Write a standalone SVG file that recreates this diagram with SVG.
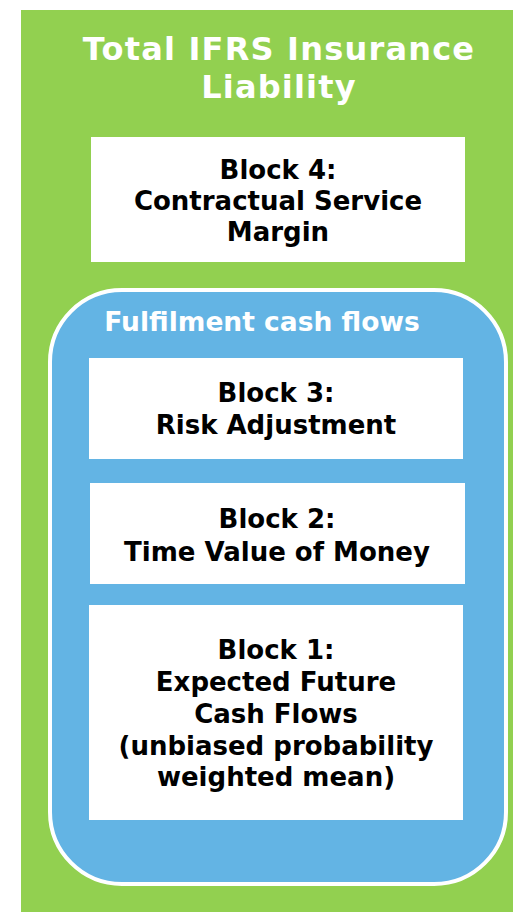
<svg xmlns="http://www.w3.org/2000/svg" width="513" height="912" viewBox="0 0 513 912">
<style>
.blk{fill:#fff}
.t{font-family:"DejaVu Sans",Verdana,sans-serif;font-weight:bold;text-anchor:middle}
.bt{font-size:26px;fill:#000}
.wt{fill:#fff}
.ttl{font-size:32px;letter-spacing:1.2px}
</style>
<rect x="0" y="0" width="513" height="912" fill="#fff"/>
<g id="total">
<rect x="21" y="10" width="492" height="902" fill="#92d050"/>
<text class="t wt ttl" x="279" y="60">Total IFRS Insurance</text>
<text class="t wt ttl" x="279" y="98">Liability</text>
</g>
<g id="block4">
<rect class="blk" x="91" y="137" width="374" height="125"/>
<text class="t bt" x="278" y="179">Block 4:</text>
<text class="t bt" x="278" y="210">Contractual Service</text>
<text class="t bt" x="278" y="241">Margin</text>
</g>
<g id="fcf">
<rect x="50" y="290" width="456" height="594" rx="72" ry="72" fill="#63b4e4" stroke="#fff" stroke-width="4"/>
<text class="t wt" font-size="26.5" x="262" y="331">Fulfilment cash flows</text>
</g>
<g id="block3">
<rect class="blk" x="89" y="358" width="374" height="101"/>
<text class="t bt" x="276" y="402">Block 3:</text>
<text class="t bt" x="276" y="434">Risk Adjustment</text>
</g>
<g id="block2">
<rect class="blk" x="90" y="483" width="375" height="101"/>
<text class="t bt" x="277" y="528">Block 2:</text>
<text class="t bt" x="277" y="561">Time Value of Money</text>
</g>
<g id="block1">
<rect class="blk" x="89" y="605" width="374" height="215"/>
<text class="t bt" x="276" y="659">Block 1:</text>
<text class="t bt" x="276" y="691">Expected Future</text>
<text class="t bt" x="276" y="723">Cash Flows</text>
<text class="t bt" x="276" y="755">(unbiased probability</text>
<text class="t bt" x="276" y="786">weighted mean)</text>
</g>
<g id="connectors"/>
</svg>
